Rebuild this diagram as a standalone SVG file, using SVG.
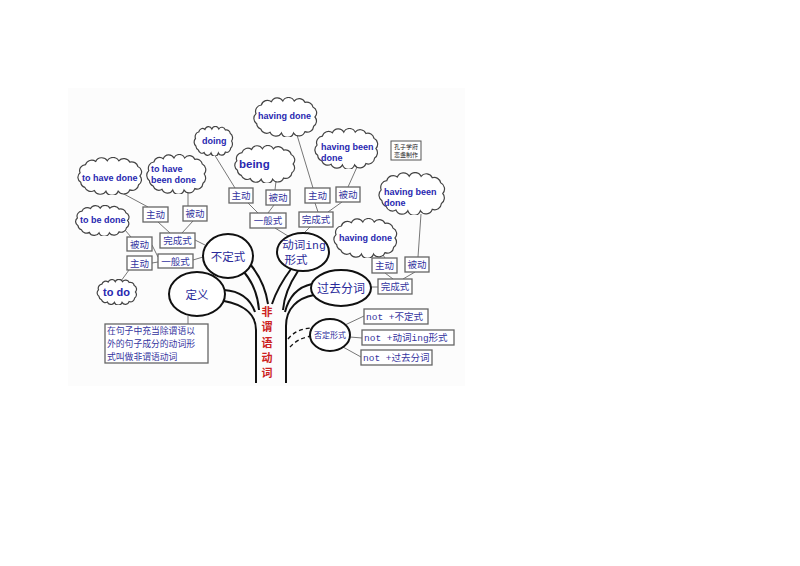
<svg xmlns="http://www.w3.org/2000/svg" xmlns:xlink="http://www.w3.org/1999/xlink" width="800" height="566" viewBox="0 0 800 566">
<style>
.cl{fill:#fff;stroke:#444;stroke-width:1.2}
.ct{font-family:"Liberation Sans",Arial,sans-serif;font-weight:bold;font-size:9px;fill:#2828b0}
.bx{fill:#fff;stroke:#666;stroke-width:1.3}
.bt{font-family:"Noto Sans CJK SC",sans-serif;font-size:9.5px;fill:#3535a0;text-anchor:middle}
.nt{font-family:"Liberation Mono","Noto Sans CJK SC",monospace;font-size:9.5px;fill:#3535a0}
.el{fill:#fff;stroke:#111;stroke-width:2}
.et{font-family:"Noto Sans CJK SC",sans-serif;font-size:11.5px;fill:#2a2a9a;text-anchor:middle}
.ln{stroke:#777;stroke-width:1;fill:none}
.tr{stroke:#111;stroke-width:2;fill:none}
.rd{font-family:"Noto Sans CJK SC",sans-serif;font-size:11px;font-weight:bold;fill:#cc2222;text-anchor:middle}
</style>
<defs>
<symbol id="cloud" viewBox="0 0 100 60" preserveAspectRatio="none">
<path class="cl" vector-effect="non-scaling-stroke" d="M7,40 A9.5,9.5 0 0 1 6,25 A9.5,9.5 0 0 1 14,12 A9.5,9.5 0 0 1 29,7 A9.5,9.5 0 0 1 46,6 A9.5,9.5 0 0 1 63,6 A9.5,9.5 0 0 1 79,8 A9.5,9.5 0 0 1 91,15 A9.5,9.5 0 0 1 94,30 A9.5,9.5 0 0 1 92,44 A9.5,9.5 0 0 1 79,52 A9.5,9.5 0 0 1 62,54 A9.5,9.5 0 0 1 44,54 A9.5,9.5 0 0 1 27,53 A9.5,9.5 0 0 1 13,48 A9.5,9.5 0 0 1 7,40 Z"/>
</symbol>
</defs>
<rect x="68" y="88" width="397" height="298" fill="#fcfcfc"/>

<g id="connectors">
<line class="ln" x1="122" y1="193" x2="148" y2="207"/>
<line class="ln" x1="188" y1="192" x2="188" y2="206"/>
<line class="ln" x1="158" y1="222" x2="170" y2="233"/>
<line class="ln" x1="193" y1="221" x2="182" y2="233"/>
<line class="ln" x1="195" y1="240" x2="205" y2="245"/>
<line class="ln" x1="125" y1="230" x2="131" y2="237"/>
<line class="ln" x1="152" y1="245" x2="158" y2="257"/>
<line class="ln" x1="152" y1="263" x2="158" y2="262"/>
<line class="ln" x1="193" y1="260" x2="203" y2="257"/>
<line class="ln" x1="129" y1="270" x2="121" y2="281"/>
<line class="ln" x1="214" y1="154" x2="235" y2="188"/>
<line class="ln" x1="248" y1="203" x2="258" y2="213"/>
<line class="ln" x1="276" y1="181" x2="275" y2="190"/>
<line class="ln" x1="274" y1="205" x2="268" y2="213"/>
<line class="ln" x1="275" y1="228" x2="288" y2="236"/>
<line class="ln" x1="297" y1="135" x2="313" y2="188"/>
<line class="ln" x1="315" y1="203" x2="318" y2="212"/>
<line class="ln" x1="357" y1="167" x2="348" y2="187"/>
<line class="ln" x1="342" y1="202" x2="328" y2="212"/>
<line class="ln" x1="310" y1="227" x2="304" y2="233"/>
<line class="ln" x1="383" y1="255" x2="385" y2="258"/>
<line class="ln" x1="421" y1="214" x2="418" y2="257"/>
<line class="ln" x1="385" y1="273" x2="393" y2="279"/>
<line class="ln" x1="415" y1="272" x2="403" y2="279"/>
<line class="ln" x1="371" y1="287" x2="378" y2="287"/>
<line class="ln" x1="345" y1="325" x2="364" y2="316"/>
<line class="ln" x1="350" y1="337" x2="362" y2="338"/>
<line class="ln" x1="343" y1="347" x2="361" y2="357"/>
<line class="ln" x1="188" y1="316" x2="188" y2="324"/>
<path class="tr" d="M250,264 C260,276 266,290 268,304"/>
<path class="tr" d="M244,272 C254,284 258,296 259,310"/>
<path class="tr" d="M224,290 C240,291 250,298 255,312"/>
<path class="tr" d="M224,301 C240,304 256,312 256,330 L256,383"/>
<path class="tr" d="M291,269 C282,281 276,292 272,304"/>
<path class="tr" d="M298,271 C290,283 284,296 283,310"/>
<path class="tr" d="M312,284 C298,287 289,296 285,312"/>
<path class="tr" d="M314,295 C298,298 286,308 286,326 L286,383"/>
<path d="M288,339 Q296,329 311,328" fill="none" stroke="#111" stroke-width="1.4" stroke-dasharray="4 3"/>
<path d="M290,347 Q298,338 312,336" fill="none" stroke="#111" stroke-width="1.4" stroke-dasharray="4 3"/>
</g>

<g id="c-having-done-top"><use xlink:href="#cloud" x="252" y="97" width="67" height="40"/><text class="ct" x="258" y="119">having done</text></g>
<g id="c-doing"><use xlink:href="#cloud" x="193" y="126" width="41" height="30"/><text class="ct" x="202" y="144">doing</text></g>
<g id="c-being"><use xlink:href="#cloud" x="233" y="145" width="64" height="38"/><text class="ct" x="239" y="168" style="font-size:11.5px">being</text></g>
<g id="c-having-been-done-top"><use xlink:href="#cloud" x="313" y="128" width="67" height="41"/><text class="ct" x="321" y="150">having been</text><text class="ct" x="321" y="161">done</text></g>
<g id="c-to-have-done"><use xlink:href="#cloud" x="76" y="157" width="68" height="38"/><text class="ct" x="82" y="181">to have done</text></g>
<g id="c-to-have-been-done"><use xlink:href="#cloud" x="145" y="154" width="63" height="40"/><text class="ct" x="151" y="172">to have</text><text class="ct" x="151" y="183">been done</text></g>
<g id="c-to-be-done"><use xlink:href="#cloud" x="74" y="205" width="57" height="31"/><text class="ct" x="80" y="223">to be done</text></g>
<g id="c-to-do"><use xlink:href="#cloud" x="96" y="279" width="42" height="26"/><text class="ct" x="103" y="296" style="font-size:11px">to do</text></g>
<g id="c-having-been-done-right"><use xlink:href="#cloud" x="377" y="172" width="70" height="43"/><text class="ct" x="384" y="195">having been</text><text class="ct" x="384" y="206">done</text></g>
<g id="c-having-done-mid"><use xlink:href="#cloud" x="332" y="218" width="67" height="40"/><text class="ct" x="339" y="241">having done</text></g>

<g id="credit"><rect x="391" y="141" width="30" height="19" fill="#fff" stroke="#555" stroke-width="1"/><text x="406" y="149" font-family="Noto Sans CJK SC,sans-serif" font-size="6" fill="#222" text-anchor="middle">孔子学府</text><text x="406" y="157" font-family="Noto Sans CJK SC,sans-serif" font-size="6" fill="#222" text-anchor="middle">恋盏制作</text></g>

<g id="b1"><rect class="bx" x="143" y="207" width="25" height="15"/><text class="bt" x="155.5" y="218">主动</text></g>
<g id="b2"><rect class="bx" x="183" y="206" width="24" height="15"/><text class="bt" x="195" y="217">被动</text></g>
<g id="b3"><rect class="bx" x="160" y="233" width="35" height="15"/><text class="bt" x="177.5" y="244">完成式</text></g>
<g id="b4"><rect class="bx" x="127" y="237" width="25" height="14"/><text class="bt" x="139.5" y="247.5">被动</text></g>
<g id="b5"><rect class="bx" x="127" y="256" width="25" height="14"/><text class="bt" x="139.5" y="266.5">主动</text></g>
<g id="b6"><rect class="bx" x="158" y="254" width="35" height="14"/><text class="bt" x="175.5" y="264.5">一般式</text></g>
<g id="b7"><rect class="bx" x="229" y="188" width="24" height="15"/><text class="bt" x="241" y="199">主动</text></g>
<g id="b8"><rect class="bx" x="266" y="190" width="24" height="15"/><text class="bt" x="278" y="201">被动</text></g>
<g id="b9"><rect class="bx" x="250" y="213" width="36" height="15"/><text class="bt" x="268" y="224">一般式</text></g>
<g id="b10"><rect class="bx" x="305" y="188" width="25" height="15"/><text class="bt" x="317.5" y="199">主动</text></g>
<g id="b11"><rect class="bx" x="336" y="187" width="24" height="15"/><text class="bt" x="348" y="198">被动</text></g>
<g id="b12"><rect class="bx" x="299" y="212" width="34" height="15"/><text class="bt" x="316" y="223">完成式</text></g>
<g id="b13"><rect class="bx" x="372" y="258" width="25" height="15"/><text class="bt" x="384.5" y="269">主动</text></g>
<g id="b14"><rect class="bx" x="405" y="257" width="24" height="15"/><text class="bt" x="417" y="268">被动</text></g>
<g id="b15"><rect class="bx" x="378" y="279" width="34" height="15"/><text class="bt" x="395" y="290">完成式</text></g>
<g id="b16"><rect class="bx" x="364" y="309" width="64" height="15"/><text class="nt" x="366" y="320">not +不定式</text></g>
<g id="b17"><rect class="bx" x="362" y="330" width="92" height="15"/><text class="nt" x="364" y="341">not +动词ing形式</text></g>
<g id="b18"><rect class="bx" x="361" y="350" width="71" height="15"/><text class="nt" x="363" y="361">not +过去分词</text></g>

<g id="definition"><rect class="bx" x="105" y="324" width="103" height="39"/>
<text font-family="Noto Sans CJK SC,sans-serif" font-size="8.8" fill="#3535a0"><tspan x="107" y="334">在句子中充当除谓语以</tspan><tspan x="107" y="347">外的句子成分的动词形</tspan><tspan x="107" y="360">式叫做非谓语动词</tspan></text></g>

<g id="e-budingshi"><ellipse class="el" cx="228" cy="256" rx="25" ry="22"/><text class="et" x="228" y="260.5">不定式</text></g>
<g id="e-dingyi"><ellipse class="el" cx="197" cy="294" rx="28" ry="22"/><text class="et" x="197" y="298.5">定义</text></g>
<g id="e-ing"><ellipse class="el" cx="303" cy="252" rx="26" ry="19"/><text class="et" x="304" y="249" style="font-family:'Liberation Mono','Noto Sans CJK SC',monospace">动词ing</text><text class="et" x="296" y="264">形式</text></g>
<g id="e-guoqu"><ellipse class="el" cx="341" cy="288" rx="30" ry="18"/><text class="et" x="341" y="292.5" style="font-size:12px">过去分词</text></g>
<g id="e-fouding"><ellipse class="el" cx="330" cy="335" rx="20" ry="16"/><text class="et" x="330" y="338" style="font-size:8px">否定形式</text></g>

<g id="trunk-label"><text class="rd" x="267" y="316">非</text><text class="rd" x="267" y="331">谓</text><text class="rd" x="267" y="347">语</text><text class="rd" x="267" y="362">动</text><text class="rd" x="267" y="377">词</text></g>
</svg>
